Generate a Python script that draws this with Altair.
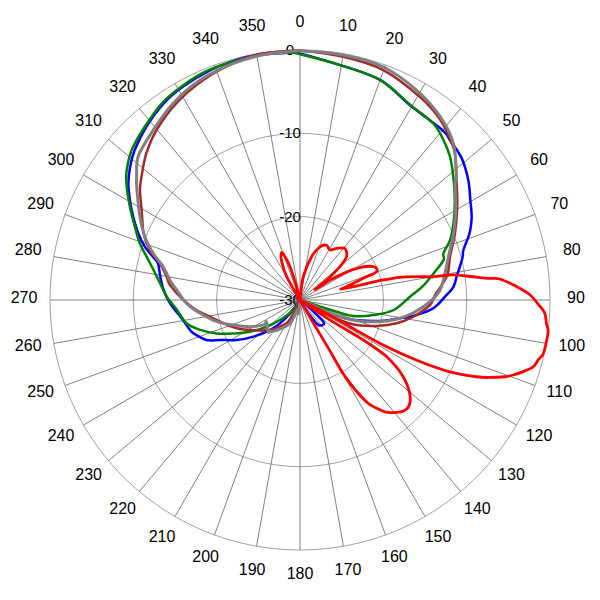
import altair as alt
import pandas as pd

# ---- data: (angle in degrees clockwise from north, level in dB), drawing order ----
BLUE_ANG = [0, 9.7, 20, 30, 40, 43.2, 48.8, 54.5, 59.6, 64.1, 67.6, 69.4, 73, 75.1, 78.2, 81.5, 85, 88.7,
            93.6, 97.3, 100.4, 104, 107.2, 111, 114, 116, 120, 128, 133, 139, 143.8, 146, 150, 155,
            212, 216.9, 220.6, 225, 231.8, 237.7, 243.4, 246.8, 252.7, 255, 262.1, 268.5, 274.2, 279.5,
            284.5, 286.4, 289, 292.4, 296.6, 300.5, 304.2, 308.1, 312.3, 318.5, 325.2, 331.3, 338.6,
            345.2, 350, 357.7, 360]
BLUE_DB = [-0.4, -1.4, -1.9, -3.2, -3.4, -3.7, -4.2, -5.2, -6.3, -7.1, -7.9, -8.4, -9.5, -9.8, -10.4, -11.0, -11.5, -12.6,
           -14.0, -15.9, -17.8, -19.7, -21.6, -23.6, -25.6, -27.8, -31, -29, -26.2, -26.0, -26.3, -27.1, -29, -31,
           -31, -28, -26.3, -24.9, -22.9, -21, -19.3, -17.8, -16.6, -16.3, -15.5, -14.4, -13.6, -13.0,
           -12.4, -11.6, -10.3, -9.0, -7.6, -6.3, -5.1, -4.1, -3.2, -2.2, -1.3, -0.8, -0.4,
           -0.2, -0.15, -0.3, -0.4]

GREEN_ANG = [0, 9.7, 20, 29.4, 37, 41.8, 46.3, 51.2, 57.2, 63.4, 68.2, 72, 74.4, 78, 83.7, 88.3, 96.1,
             101.6, 106.7, 107.7, 108, 110, 210, 213.8, 225, 231.3, 237.6, 243.5, 248.2, 253.3, 258.4,
             265.4, 271.4, 276.8, 283.7, 289.5, 294, 298.8, 303.9, 306.9, 311.7, 318, 325, 331, 338.6,
             350.7, 357.7, 360]
GREEN_DB = [-0.5, -1.4, -1.9, -3.1, -3.45, -4.2, -5.1, -6.4, -7.9, -9.4, -10.6, -11.9, -12.1, -13.4, -15.2, -16.8, -18.7,
            -21, -23.3, -25.4, -27.5, -31, -31, -28.6, -26.6, -24.9, -22.9, -21, -19.2, -17.5, -16.1,
            -15.2, -14.0, -13.1, -11.5, -9.6, -8.3, -6.7, -4.9, -4.0, -2.95, -2.1, -1.15, -0.7, -0.3,
            -0.2, -0.3, -0.5]

BROWN_ANG = [0, 10.1, 19.9, 30.6, 37.9, 45, 48, 51.7, 53.3, 59.3, 66.7, 73.9, 80, 84, 88, 92.2, 98.4,
             103.5, 108.7, 113.8, 116.6, 118.6, 118, 122, 204, 206.6, 216.8, 225, 237.3, 245.9, 253.1,
             259.5, 264.5, 270, 276.6, 279.9, 284.7, 288.4, 293.1, 299.6, 304.5, 307.9, 313.7, 319.9,
             327.9, 336.3, 345.1, 351.5, 360]
BROWN_DB = [-0.05, -0.35, -0.65, -1.7, -2.6, -4.0, -4.9, -6.1, -6.55, -8.05, -9.75, -11.26, -12.0, -12.9, -13.8, -14.4, -16.26,
            -18.06, -20.3, -22.56, -24.6, -26.8, -28.7, -31, -31, -27.3, -26, -24.9, -23.3, -21.7, -20.4,
            -19, -17.5, -16, -14.3, -13.76, -12.6, -11.0, -9.6, -8.15, -6.7, -5.9, -4.5, -3.3,
            -2.1, -1.15, -0.4, -0.07, -0.05]

GRAY_ANG = [0, 10, 19.7, 29.1, 37.4, 44.4, 51.8, 53, 59, 66.5, 73.5, 79.5, 85.9, 90.7, 96.4, 101.3,
            105.8, 110, 112.7, 113.2, 112, 115, 180, 186, 195, 203.2, 217.8, 223.4, 225, 236.9, 235.7,
            241.9, 249.4, 255.4, 262.4, 268.3, 274.6, 278.7, 283.7, 287.7, 292.2, 297.5, 304, 307,
            311.8, 319.2, 327.2, 335.6, 344.3, 351.5, 360]
GRAY_DB = [-0.1, -0.15, -0.3, -1.2, -2.3, -3.7, -6.1, -6.7, -8.2, -9.9, -11.4, -12.3, -13.15, -14.4, -16.3, -18.2,
           -20.4, -22.75, -24.8, -26.95, -28.7, -31, -30, -28.4, -28.8, -26.95, -25.4, -24.8, -24.6, -25.2, -24.7,
           -23.2, -21.45, -19.7, -17.9, -16.4, -15.16, -14.2, -13.1, -11.5, -9.9, -8.35, -6.4, -5.45,
           -4.0, -3.06, -1.9, -1.0, -0.5, -0.25, -0.1]

RED_ANG = [0, 5, 8, 15, 20.6, 25.9, 31, 35.4, 41, 47.2, 50.2, 53.2, 55, 56.9, 60.8, 65.6, 69.7, 70.7,
           74.1, 75.5, 76.5, 77.2, 79, 80.1, 80.7, 81.8, 83.4, 84, 86.4, 88.5, 90.8, 93, 95.4, 97,
           99.2, 102.4, 104, 106, 108, 109.4, 110.5, 112.3, 113.5, 115.5, 117.2, 118.4, 118.1, 116.6,
           118, 120, 123.7, 122.3, 123.2, 126.6, 131.3, 136, 141.4, 144.5, 147, 149.5, 149.5,
           150, 155, 325, 330.3, 334.5, 338, 340, 343.3, 345, 348, 360]
RED_DB = [-31, -30, -27.2, -24.6, -23.2, -22.7, -23.0, -22.4, -21.8, -22.4, -23.8, -26, -27.8, -25.2, -22.2, -20.3, -20.2, -21.5,
          -24.2, -24.6, -19.7, -17.7, -15.3, -13.8, -11.4, -9.8, -7.4, -5.9, -4.0, -2.5, -1.5, -0.6, -0.3, 0,
          0, -0.1, -0.5, -0.9, -2.0, -2.9, -3.7, -5.5, -6.9, -9.8, -14, -18.6, -23.2, -27.3,
          -31, -31, -25.7, -21, -17.6, -14.6, -12.4, -11.7, -12.7, -14.0, -15.5, -19.3, -23.3,
          -26.8, -31, -31, -26.8, -24.9, -24.0, -24.1, -25.8, -27.9, -31, -31]

SERIES = [
    ("blue", BLUE_ANG, BLUE_DB, "#0000FF", 2.5),
    ("green", GREEN_ANG, GREEN_DB, "#008000", 2.5),
    ("brown", BROWN_ANG, BROWN_DB, "#A52A2A", 2.5),
    ("gray", GRAY_ANG, GRAY_DB, "#808080", 3),
    ("red", RED_ANG, RED_DB, "#FF0000", 2.8),
]

RING_DB = [0, -10, -20, -30]
ANGLE_TICKS = list(range(0, 360, 10))
DB_MIN = -30

PX_PER_UNIT = 250 / 30
HALF = 292 / PX_PER_UNIT
SIZE = 584
LABEL_R = 276 / PX_PER_UNIT

xs = alt.Scale(domain=[-HALF, HALF])
ys = alt.Scale(domain=[-HALF, HALF])

def X(f):
    return alt.X(f, type="quantitative", scale=xs, axis=None)

def Y(f):
    return alt.Y(f, type="quantitative", scale=ys, axis=None)

# rings
ring_rows = []
for r in RING_DB[:-1]:
    for a in range(0, 361, 2):
        ring_rows.append({"ring": r, "ang": a})
rings = alt.Chart(pd.DataFrame(ring_rows)).transform_calculate(
    rr=f"datum.ring - ({DB_MIN})",
    x="datum.rr * sin(datum.ang * PI / 180)",
    y="datum.rr * cos(datum.ang * PI / 180)",
).mark_line(color="#a0a0a0", strokeWidth=1).encode(
    x=X("x"), y=Y("y"), detail="ring:N", order="ang:Q"
)

spokes = alt.Chart(pd.DataFrame({"ang": ANGLE_TICKS})).transform_calculate(
    x0="0", y0="0",
    x1=f"{-DB_MIN} * sin(datum.ang * PI / 180)",
    y1=f"{-DB_MIN} * cos(datum.ang * PI / 180)",
).mark_rule(color="#606060", strokeWidth=0.8).encode(
    x=X("x0"), y=Y("y0"), x2="x1:Q", y2="y1:Q"
)

ring_labels = alt.Chart(pd.DataFrame({"db": RING_DB})).transform_calculate(
    x="-1.2",
    y=f"datum.db - ({DB_MIN})",
    label="'' + datum.db",
).mark_text(font="Liberation Sans", fontSize=15, color="#000000", baseline="middle", align="center").encode(
    x=X("x"), y=Y("y"), text="label:N"
)

angle_labels = alt.Chart(pd.DataFrame({"ang": ANGLE_TICKS})).transform_calculate(
    x=f"{LABEL_R} * sin(datum.ang * PI / 180)",
    y=f"{LABEL_R} * cos(datum.ang * PI / 180)",
    label="'' + datum.ang",
).mark_text(font="Liberation Sans", fontSize=16, color="#000000", baseline="middle", align="center", dy=-2).encode(
    x=X("x"), y=Y("y"), text="label:N"
)

lines = []
for name, angs, dbs, color, sw in SERIES:
    df = pd.DataFrame({"i": list(range(len(angs))), "ang": angs, "db": dbs})
    ch = alt.Chart(df).transform_calculate(
        rr=f"max(datum.db - ({DB_MIN}), 0)",
        x="datum.rr * sin(datum.ang * PI / 180)",
        y="datum.rr * cos(datum.ang * PI / 180)",
    ).mark_line(color=color, strokeWidth=sw, interpolate="cardinal", strokeJoin="round").encode(
        x=X("x"), y=Y("y"), order="i:Q"
    )
    lines.append(ch)

chart = alt.layer(rings, spokes, ring_labels, *lines, angle_labels).properties(
    width=SIZE, height=SIZE, autosize=alt.AutoSizeParams(type="none"), padding=0
).configure(background="white", view=alt.ViewConfig(stroke=None))

chart.save("out.html", embed_options={"renderer": "svg", "actions": False})
